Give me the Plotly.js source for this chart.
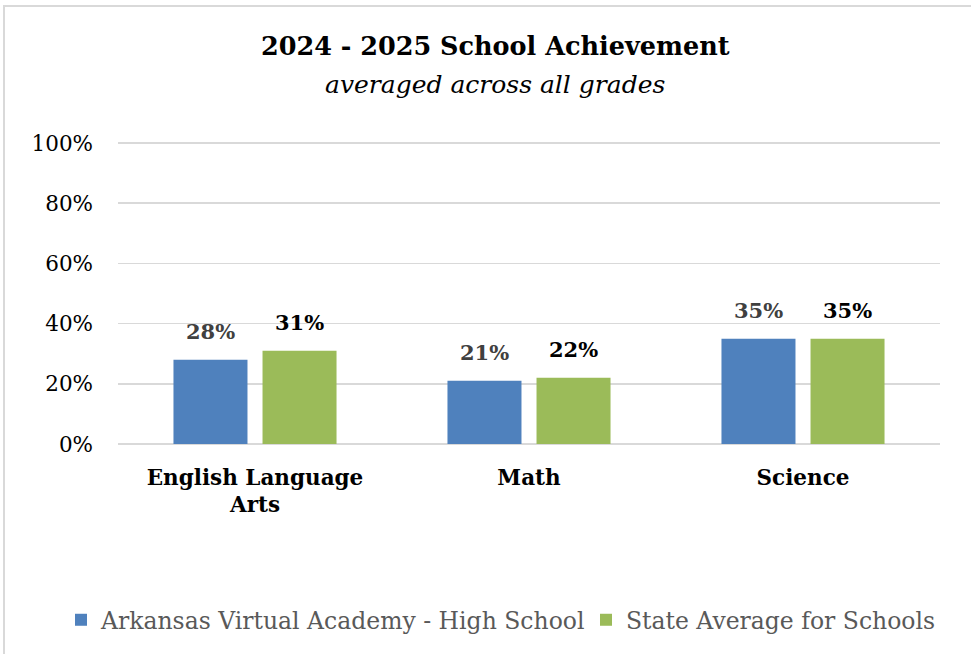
<!DOCTYPE html>
<html>
<head>
<meta charset="utf-8">
<script src="https://cdn.plot.ly/plotly-3.0.1.min.js"></script>
<style>
html,body{margin:0;padding:0;background:#fff;}
#chart{width:971px;height:654px;}
</style>
</head>
<body>
<div id="chart"></div>
<script>
const categories = ["English Language<br>Arts", "Math", "Science"];
const schoolName = "Arkansas Virtual Academy - High School";
const stateName = "State Average for Schools";
const schoolValues = [0.28, 0.21, 0.35];
const stateValues = [0.31, 0.22, 0.35];
const yTickVals = [0, 0.2, 0.4, 0.6, 0.8, 1.0];
const titleText = "2024 - 2025 School Achievement";
const subtitleText = "averaged across all grades";

const FONT = "DejaVu Serif, serif";
const fmt = v => Math.round(v * 100) + "%";

const traces = [
  {type: "bar", name: schoolName, x: categories, y: schoolValues, legend: "legend",
   marker: {color: "#4f81bd"}, hoverinfo: "none"},
  {type: "bar", name: stateName, x: categories, y: stateValues, legend: "legend2",
   marker: {color: "#9bbb59"}, hoverinfo: "none"}
];

const annotations = [];
categories.forEach((c, i) => {
  annotations.push({x: c, y: schoolValues[i], xref: "x", yref: "y", text: "<b>" + fmt(schoolValues[i]) + "</b>",
    showarrow: false, xshift: -44.5, yshift: 28, yanchor: "middle",
    font: {family: FONT, size: 21, color: "#404040"}});
  annotations.push({x: c, y: stateValues[i], xref: "x", yref: "y", text: "<b>" + fmt(stateValues[i]) + "</b>",
    showarrow: false, xshift: 44.5, yshift: 28, yanchor: "middle",
    font: {family: FONT, size: 21, color: "#000000"}});
});
annotations.push({xref: "paper", yref: "paper", x: 0.4586, y: 1.181, text: "<i>" + subtitleText + "</i>",
  showarrow: false, xanchor: "center", yanchor: "middle",
  font: {family: FONT, size: 25, color: "#000000"}});

const legendFont = {family: FONT, size: 23.5, color: "#595959"};

const layout = {
  width: 971, height: 654,
  margin: {l: 118, r: 31, t: 140, b: 210},
  paper_bgcolor: "#ffffff", plot_bgcolor: "#ffffff",
  font: {family: FONT, color: "#000000"},
  title: {text: "<b>" + titleText + "</b>", xref: "container", yref: "container",
    x: 0.51, y: 0.9297, xanchor: "center", yanchor: "middle",
    font: {family: FONT, size: 25.5, color: "#000000"}},
  barmode: "group", bargap: 0.35, bargroupgap: 0.169,
  xaxis: {type: "category", showgrid: false, showline: false, zeroline: false, ticks: "",
    tickfont: {family: FONT, size: 21.5, color: "#000000", weight: "bold"},
    ticklabelstandoff: 18},
  yaxis: {range: [0, 1.01], tickvals: yTickVals, tickformat: ".0%", showgrid: true,
    gridcolor: "#d9d9d9", gridwidth: 1.5, zeroline: true, zerolinecolor: "#d9d9d9", zerolinewidth: 1.5,
    showline: false, ticks: "", tickfont: {family: FONT, size: 21.5, color: "#000000"},
    ticklabelstandoff: 24, fixedrange: true},
  showlegend: true,
  legend: {orientation: "h", xref: "container", yref: "container", x: 61 / 971, y: 0.052,
    xanchor: "left", yanchor: "middle", font: legendFont, itemwidth: 30},
  legend2: {orientation: "h", xref: "container", yref: "container", x: 586 / 971, y: 0.052,
    xanchor: "left", yanchor: "middle", font: legendFont, itemwidth: 30},
  annotations: annotations,
  shapes: [{type: "path", xref: "paper", yref: "paper",
    path: "M -0.1387 -0.72 L -0.1387 1.4408 L 1.05 1.4408",
    line: {color: "#d9d9d9", width: 2}}]
};

Plotly.newPlot("chart", traces, layout, {displayModeBar: false, staticPlot: true});
</script>
</body>
</html>
